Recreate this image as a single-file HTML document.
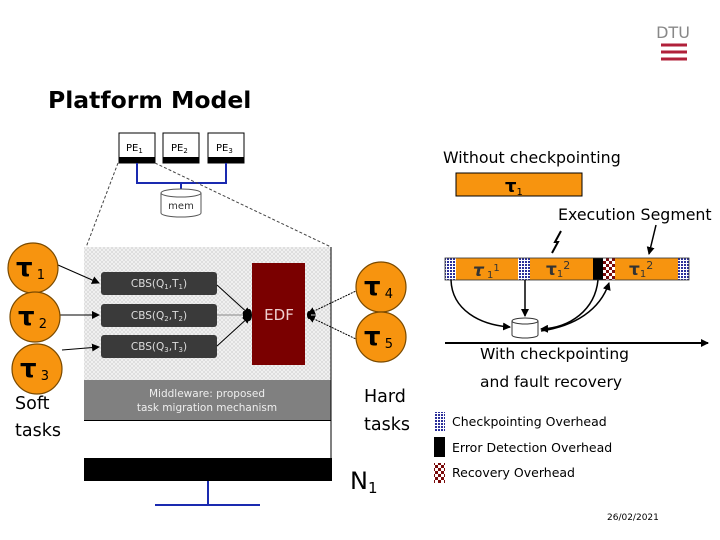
<!DOCTYPE html>
<html><head><meta charset="utf-8"><style>
html,body{margin:0;padding:0;background:#fff}
svg{display:block}
text{font-family:"DejaVu Sans","Liberation Sans",sans-serif}
</style></head><body>
<svg width="720" height="540" viewBox="0 0 720 540" xmlns="http://www.w3.org/2000/svg">
<defs>
<pattern id="hatch" width="4" height="4" patternUnits="userSpaceOnUse">
<rect width="4" height="4" fill="#f2f2f2"/><path d="M0 4L4 0M0 0L4 4" stroke="#d4d4d4" stroke-width="0.6"/>
</pattern>
<pattern id="blue" width="3" height="3" patternUnits="userSpaceOnUse">
<rect width="3" height="3" fill="#fff"/><rect width="2" height="2" fill="#2b2f9a"/>
</pattern>
<pattern id="chk" width="6" height="6" patternUnits="userSpaceOnUse">
<rect width="6" height="6" fill="#fff"/><rect width="3" height="3" fill="#7a0a0a"/><rect x="3" y="3" width="3" height="3" fill="#7a0a0a"/>
</pattern>
<marker id="ah" markerWidth="8" markerHeight="8" refX="7" refY="4" orient="auto" markerUnits="userSpaceOnUse"><path d="M0 0L8 4L0 8z" fill="#000"/></marker>
</defs>

<text x="673" y="38" font-size="16" fill="#888" text-anchor="middle" font-family="Liberation Sans Narrow, Liberation Sans, sans-serif">DTU</text>
<g stroke="#b0203a" stroke-width="3">
<line x1="661" y1="45" x2="687" y2="45"/><line x1="661" y1="52" x2="687" y2="52"/><line x1="661" y1="59" x2="687" y2="59"/>
</g>

<text x="48" y="108" font-size="23.5" font-weight="bold" fill="#000">Platform Model</text>

<g font-size="10" fill="#000">
<rect x="119" y="133" width="36" height="30" fill="#fff" stroke="#000"/><rect x="119" y="157" width="36" height="6" fill="#000"/>
<text x="126" y="151">PE<tspan font-size="7" dy="2">1</tspan></text>
<rect x="163" y="133" width="36" height="30" fill="#fff" stroke="#000"/><rect x="163" y="157" width="36" height="6" fill="#000"/>
<text x="171" y="151">PE<tspan font-size="7" dy="2">2</tspan></text>
<rect x="208" y="133" width="36" height="30" fill="#fff" stroke="#000"/><rect x="208" y="157" width="36" height="6" fill="#000"/>
<text x="216" y="151">PE<tspan font-size="7" dy="2">3</tspan></text>
</g>
<path d="M137 163V183H226V163M181 183V190" stroke="#1a2ab0" stroke-width="2" fill="none"/>
<path d="M161 193V213A20 4 0 0 0 201 213V193" fill="#fff" stroke="#555"/>
<ellipse cx="181" cy="193" rx="20" ry="4" fill="#fff" stroke="#555"/>
<text x="181" y="209" font-size="10" text-anchor="middle" fill="#333">mem</text>

<path d="M118 163L85 250M155 163L331 247" stroke="#444" stroke-dasharray="3,2" fill="none"/>

<rect x="84" y="247" width="247" height="133" fill="url(#hatch)"/>
<rect x="84" y="380" width="247" height="41" fill="#808080"/>
<text x="207" y="397" font-size="10.5" fill="#eee" text-anchor="middle">Middleware: proposed</text>
<text x="207" y="411" font-size="10.5" fill="#eee" text-anchor="middle">task migration mechanism</text>
<line x1="84" y1="420.5" x2="331" y2="420.5" stroke="#000"/>
<line x1="331" y1="247" x2="331" y2="460" stroke="#000"/>
<rect x="84" y="458" width="248" height="23" fill="#000"/>
<path d="M208 481V505M155 505H260" stroke="#1a2ab0" stroke-width="2" fill="none"/>

<g font-size="10.5" fill="#ddd" text-anchor="middle">
<rect x="101" y="272" width="116" height="23" rx="3" fill="#3a3a3a"/><text x="159" y="287">CBS(Q<tspan font-size="7" dy="2">1</tspan><tspan dy="-2">,T</tspan><tspan font-size="7" dy="2">1</tspan><tspan dy="-2">)</tspan></text>
<rect x="101" y="304" width="116" height="23" rx="3" fill="#3a3a3a"/><text x="159" y="319">CBS(Q<tspan font-size="7" dy="2">2</tspan><tspan dy="-2">,T</tspan><tspan font-size="7" dy="2">2</tspan><tspan dy="-2">)</tspan></text>
<rect x="101" y="335" width="116" height="23" rx="3" fill="#3a3a3a"/><text x="159" y="350">CBS(Q<tspan font-size="7" dy="2">3</tspan><tspan dy="-2">,T</tspan><tspan font-size="7" dy="2">3</tspan><tspan dy="-2">)</tspan></text>
</g>
<rect x="252" y="263" width="53" height="102" fill="#7a0000"/>
<text x="279" y="320" font-size="15" fill="#f0d0d0" text-anchor="middle">EDF</text>

<g stroke="#000" fill="none">
<line x1="58" y1="265" x2="99" y2="283" marker-end="url(#ah)"/>
<line x1="60" y1="315" x2="99" y2="315" marker-end="url(#ah)"/>
<line x1="62" y1="350" x2="99" y2="347" marker-end="url(#ah)"/>
<line x1="217" y1="285" x2="250" y2="315" marker-end="url(#ah)"/>
<line x1="217" y1="315" x2="250" y2="315" stroke="#888" marker-end="url(#ah)"/>
<line x1="217" y1="346" x2="250" y2="316" marker-end="url(#ah)"/>
<line x1="358" y1="290" x2="308" y2="314" stroke-dasharray="2,1" marker-end="url(#ah)"/>
<line x1="358" y1="340" x2="308" y2="316" stroke-dasharray="2,1" marker-end="url(#ah)"/>
</g>
<ellipse cx="249" cy="315" rx="3" ry="6" fill="#000"/>
<ellipse cx="309" cy="315" rx="2" ry="4" fill="#000"/>

<g fill="#f7940f" stroke="#7a4a00" stroke-width="1.2">
<circle cx="33" cy="268" r="25"/><circle cx="35" cy="317" r="25"/><circle cx="37" cy="369" r="25"/>
<circle cx="381" cy="287" r="25"/><circle cx="381" cy="337" r="25"/>
</g>
<g font-size="26" font-weight="bold" fill="#000" font-family="Liberation Serif, serif">
<text x="16" y="276">τ<tspan font-size="13" font-weight="normal" dy="3"> 1</tspan></text>
<text x="18" y="325">τ<tspan font-size="13" font-weight="normal" dy="3"> 2</tspan></text>
<text x="20" y="377">τ<tspan font-size="13" font-weight="normal" dy="3"> 3</tspan></text>
<text x="364" y="295">τ<tspan font-size="13" font-weight="normal" dy="3"> 4</tspan></text>
<text x="364" y="345">τ<tspan font-size="13" font-weight="normal" dy="3"> 5</tspan></text>
</g>

<g font-size="17.5" fill="#000">
<text x="15" y="409">Soft</text><text x="15" y="436">tasks</text>
<text x="364" y="402">Hard</text><text x="364" y="430">tasks</text>
</g>
<text x="350" y="489" font-size="24" fill="#000">N<tspan font-size="15" dy="4">1</tspan></text>

<text x="443" y="163" font-size="15.8" fill="#000">Without checkpointing</text>
<rect x="456" y="173" width="126" height="23" fill="#f7940f" stroke="#000"/>
<text x="505" y="192" font-size="18" font-weight="bold" font-family="Liberation Serif, serif">τ<tspan font-size="10" font-weight="normal" dy="3">1</tspan></text>
<text x="558" y="220" font-size="15.8" fill="#000">Execution Segment</text>

<rect x="445" y="258" width="11" height="22" fill="url(#blue)"/>
<rect x="456" y="258" width="62" height="22" fill="#f7940f"/>
<rect x="518" y="258" width="12" height="22" fill="url(#blue)"/>
<rect x="530" y="258" width="63" height="22" fill="#f7940f"/>
<rect x="593" y="258" width="10" height="22" fill="#000"/>
<rect x="603" y="258" width="12" height="22" fill="url(#chk)"/>
<rect x="615" y="258" width="63" height="22" fill="#f7940f"/>
<rect x="678" y="258" width="11" height="22" fill="url(#blue)"/>
<rect x="445" y="258" width="244" height="22" fill="none" stroke="#333" stroke-width="0.8"/>
<g font-family="Liberation Serif, serif" fill="#333">
<text x="473" y="276" font-size="17" font-style="italic" font-weight="bold">τ<tspan font-size="10" font-style="normal" font-weight="normal" dy="2"> 1</tspan><tspan font-size="10" font-style="normal" font-weight="normal" dy="-7">1</tspan></text>
<text x="546" y="275" font-size="17" font-weight="bold">τ<tspan font-size="10" font-weight="normal" dy="2">1</tspan><tspan font-size="11" font-weight="normal" dy="-8">2</tspan></text>
<text x="629" y="275" font-size="17" font-weight="bold">τ<tspan font-size="10" font-weight="normal" dy="2">1</tspan><tspan font-size="11" font-weight="normal" dy="-8">2</tspan></text>
</g>
<path d="M561 231L555 242L558 242L552 253" stroke="#000" stroke-width="2" fill="none"/>
<line x1="656" y1="225" x2="649" y2="254" stroke="#000" stroke-width="1.5" marker-end="url(#ah)"/>

<g stroke="#000" stroke-width="1.5" fill="none">
<path d="M451 280C452 310 480 325 510 327" marker-end="url(#ah)"/>
<line x1="525" y1="280" x2="525" y2="316" marker-end="url(#ah)"/>
<path d="M598 280C595 310 570 328 541 329" marker-end="url(#ah)"/>
<path d="M541 331C575 326 600 310 609 283" marker-end="url(#ah)"/>
</g>
<path d="M512 321V335A13 3 0 0 0 538 335V321" fill="#fff" stroke="#333"/>
<ellipse cx="525" cy="321" rx="13" ry="3" fill="#fff" stroke="#333"/>
<line x1="445" y1="343" x2="708" y2="343" stroke="#000" stroke-width="2" marker-end="url(#ah)"/>

<text x="480" y="359" font-size="15.5" fill="#000">With checkpointing</text>
<text x="480" y="387" font-size="15.5" fill="#000">and fault recovery</text>

<rect x="434" y="412" width="11" height="19" fill="url(#blue)"/>
<rect x="434" y="437" width="11" height="20" fill="#000"/>
<rect x="434" y="463" width="11" height="20" fill="url(#chk)"/>
<g font-size="12.5" fill="#000">
<text x="452" y="426">Checkpointing Overhead</text>
<text x="452" y="452">Error Detection Overhead</text>
<text x="452" y="477">Recovery Overhead</text>
</g>
<text x="607" y="520" font-size="9" fill="#000">26/02/2021</text>
</svg>
</body></html>
